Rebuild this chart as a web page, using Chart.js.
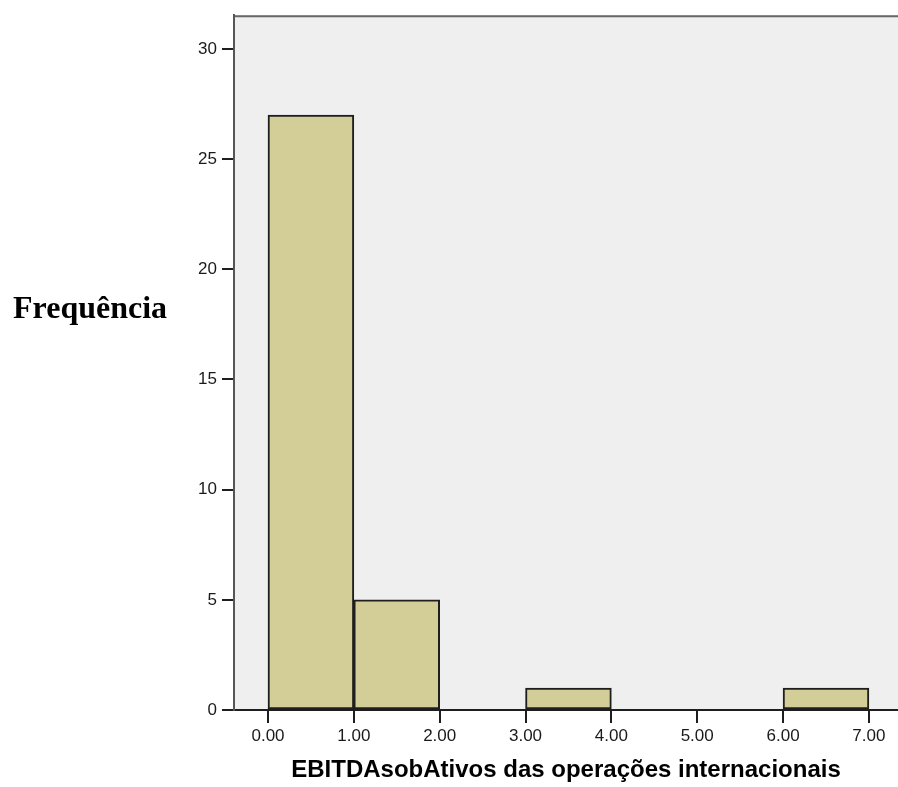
<!DOCTYPE html>
<html>
<head>
<meta charset="utf-8">
<script src="https://cdn.jsdelivr.net/npm/chart.js@4.4.1/dist/chart.umd.min.js"></script>
<style>
  html, body { margin: 0; padding: 0; background: #ffffff; }
  #wrap { position: relative; width: 898px; height: 787px; overflow: hidden; }
  #c { position: absolute; left: 0; top: 0; }
  #ylab { position: absolute; left: 13px; top: 291px; font-family: "Liberation Serif", "Times New Roman", serif; font-weight: bold; font-size: 32px; line-height: 32px; color: #000; white-space: nowrap; }
</style>
</head>
<body>
<div id="wrap">
  <canvas id="c" width="898" height="787"></canvas>
  <div id="ylab">Frequência</div>
</div>
<script>
// Histogram bins (lower edge of each bin, bin width 1)
const binStarts = [0, 1, 2, 3, 4, 5, 6];
const counts = [27, 5, 0, 1, 0, 0, 1];
const xTickValues = [0, 1, 2, 3, 4, 5, 6, 7];
const yTickValues = [0, 5, 10, 15, 20, 25, 30];
const xTitle = 'EBITDAsobAtivos das operações internacionais';
const yTitle = 'Frequência';

const binWidth = 1;
const points = binStarts.map((s, i) => ({ x: s + binWidth / 2, y: counts[i] }));

const bgPlugin = {
  id: 'plotBg',
  beforeDraw(chart) {
    const { ctx, chartArea: a } = chart;
    ctx.save();
    ctx.fillStyle = '#efefef';
    ctx.fillRect(a.left, a.top, a.right - a.left, a.bottom - a.top);
    ctx.strokeStyle = '#666666';
    ctx.lineWidth = 2;
    ctx.beginPath();
    ctx.moveTo(a.left, a.top + 1);
    ctx.lineTo(a.right, a.top + 1);
    ctx.stroke();
    ctx.restore();
  }
};

new Chart(document.getElementById('c'), {
  type: 'bar',
  data: {
    datasets: [{
      data: points,
      backgroundColor: '#d3ce98',
      borderColor: '#1e1e1e',
      borderWidth: 2,
      borderSkipped: false,
      barPercentage: 1,
      categoryPercentage: 1
    }]
  },
  options: {
    responsive: false,
    devicePixelRatio: 1,
    animation: false,
    layout: { padding: { left: 0, right: 0, top: 14, bottom: 0 } },
    plugins: { legend: { display: false }, tooltip: { enabled: false } },
    scales: {
      x: {
        type: 'linear',
        offset: false,
        min: -0.396,
        max: 7.339,
        afterFit(scale) { scale.height = 77; },
        afterBuildTicks(scale) { scale.ticks = xTickValues.map(v => ({ value: v })); },
        ticks: {
          includeBounds: false,
          autoSkip: false,
          maxRotation: 0,
          padding: 3,
          color: '#1a1a1a',
          font: { family: '"Liberation Sans", Arial, sans-serif', size: 17 },
          callback: (v) => Number(v).toFixed(2)
        },
        grid: { offset: false, drawOnChartArea: false, drawTicks: true, tickLength: 13, color: '#1e1e1e', lineWidth: 2 },
        border: { display: true, color: '#1e1e1e', width: 2 },
        title: {
          display: true,
          text: xTitle,
          color: '#000',
          padding: { top: 0, bottom: 2 },
          font: { family: '"Liberation Sans", Arial, sans-serif', size: 24, weight: 'bold' }
        }
      },
      y: {
        type: 'linear',
        min: 0,
        max: 31.53,
        afterFit(scale) { scale.width = 234; },
        afterBuildTicks(scale) { scale.ticks = yTickValues.map(v => ({ value: v })); },
        ticks: {
          includeBounds: false,
          padding: 5,
          color: '#1a1a1a',
          font: { family: '"Liberation Sans", Arial, sans-serif', size: 17 }
        },
        grid: { drawOnChartArea: false, drawTicks: true, tickLength: 12, color: '#1e1e1e', lineWidth: 2 },
        border: { display: true, color: '#555555', width: 2 }
      }
    }
  },
  plugins: [bgPlugin]
});
</script>
</body>
</html>
